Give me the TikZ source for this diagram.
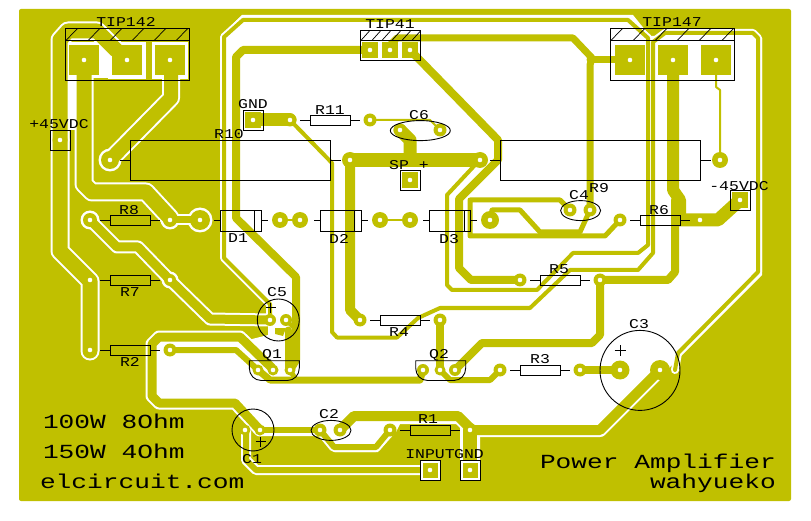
\documentclass[tikz,border=0pt]{standalone}
\usepackage{fontspec}
\newfontfamily\lblf[FakeStretch=1.22]{Liberation Mono}
\newfontfamily\bigf[FakeStretch=1.31]{Liberation Mono}
\definecolor{cu}{RGB}{192,192,0}
\newcommand\Tracks{%
  % tracks on the pour
  \trk{15}{(60,140)--(60,40)--(68,31)--(97,31)--(116,50)}
  \trk{15}{(60,140)--(60,251)--(90,281)--(90,351)}
  \trk{15}{(84,60)--(84,184)--(92,192)--(146,192)--(170,218)}
  \trk{14}{(171,60)--(171,98)--(110,160)}
  \rpad{110}{160}{9}
  \rpad{170}{220}{7}
  \rpad{200}{220}{10}
  \trk{7}{(170,220)--(200,220)}
  \rpad{90}{220}{7}
  \trk{9}{(90,220)--(117,247)--(138,247)--(170,280)--(210,319)--(270,320)}
  \rpad{170}{280}{6}
  % thin loop A
  \trk{4}{(475,165)--(447,195)--(447,285)--(452,290)--(537,290)--(573,253)--(638,253)--(648,245)--(648,38)--(628,20)--(243,20)--(224,37)--(224,258)--(270,304)--(270,320)}
  % thin loop B
  \trk{4}{(290,120)--(332,163)--(332,332)--(337,337.5)--(397,337.5)--(418,318)--(440,308)--(530,308)--(570,270)--(638,270)--(653,253)--(653,42)--(665,33)--(753,33)--(758,38)--(758,272)--(678,353)--(675,370)}
  % loop to Q1 and C1
  \trk{9}{(272,368)--(240,337)--(159,337)--(152,344)--(152,396)--(159,403)--(235,403)--(260,430)}
  \trk{6}{(170,350)--(236,350)--(258,370)}
  \trk{6}{(246,430)--(246,460)--(256,470)--(420,470)}
  \trk{6}{(260,430)--(320,430)}
  \trk{6}{(320,430)--(334,447)--(376,447)--(390,430)}
  \trk{10}{(340,430)--(354,416)--(458,416)--(470,428)--(470,459)}
  \trk{14}{(470,430)--(470,459)}
  \trk{10}{(470,430)--(600,430)--(660,370)}
  % heavy tracks on the clear area
  \trk{8}{(370,50)--(243,50)--(236,57)--(236,218)--(296,277)--(296,360)--(290,370)}
  \trk{7}{(288,330)--(288,370)}
  \trk{4}{(286,320)--(296,330)}
  \trk{7}{(258,370)--(270,380)--(420,380)--(423,370)}
  \trk{5}{(290,370)--(296,380)--(275,380)}
  \trk{7}{(390,45)--(397,38)--(573,38)--(592,58)--(590,65)--(590,210)}
  \trk{7}{(590,60)--(630,60)}
  \trk{8}{(410,50)--(498,140)--(498,160)--(459,199)--(459,268)--(471,280)--(520,280)}
  \trk{14}{(350,160)--(480,160)}
  \trk{13}{(400,130)--(410,140)--(410,160)}
  \trk{10}{(350,160)--(350,310)--(360,320)}
  \trk{13}{(255,120)--(290,120)}
  \trk{2}{(370,120)--(430,120)--(440,130)}
  \trk{2}{(716,75)--(716,87)--(720,90)--(720,155)}
  \trk{2}{(380,220)--(410,220)}
  \trk{2}{(280,220)--(300,220)}
  \trk{12}{(673,60)--(673,190)--(680,200)--(680,220)}
  \trk{8}{(675,200)--(675,272)--(668,280)--(600,280)}
  \trk{13}{(680,220)--(718,220)--(740,200)}
  \trk{8}{(440,320)--(440,370)}
  \trk{6}{(440,370)--(450,380)--(490,380)--(500,370)}
  \trk{8}{(455,370)--(482,343)--(592,343)--(600,335)--(600,280)}
  \trk{8}{(580,370)--(620,370)}
  \trk{5}{(620,220)--(605,236)--(470,236)--(470,200)--(560,200)--(570,210)}
  \trk{5}{(590,210)--(580,232)--(540,232)--(520,210)--(492,210)--(490,220)}
}
\begin{document}
\begin{tikzpicture}[x=1pt,y=-1pt,
  every node/.style={inner sep=0pt,outer sep=0pt,text=black},
  lab/.style={anchor=base,font=\lblf\fontsize{13.5}{14}\selectfont},
  biglab/.style={anchor=base west,font=\bigf\fontsize{20}{21}\selectfont},
  part/.style={draw=black,line width=.9pt}]
\useasboundingbox (0,0) rectangle (811,521);
\fill[white] (0,0) rectangle (811,521);
% copper pour
\fill[cu,rounded corners=2pt] (19,9) rectangle (791,501);
% etched main area
\fill[white] (242,15) -- (221,36) -- (221,259) -- (268,306) -- (268,335) -- (240,342)
  -- (157,342) -- (157,398) -- (235,398) -- (262,425) -- (262,436) -- (322,436)
  -- (335,452) -- (378,452) -- (396,432) -- (400,424) -- (460,424) -- (460,460)
  -- (480,460) -- (480,437) -- (601,436) -- (762,275) -- (762,38) -- (755,30)
  -- (665,30) -- (656,36) -- (650,36) -- (633,15) -- cycle;
% etched patches round the TIP142 pads
\fill[white] (67,78) rectangle (77,130);
\fill[white] (67,42) rectangle (108,78);
\fill[white] (108,42) rectangle (146,79);
\fill[white] (152,42) rectangle (188,79);
% isolation pass
\newcommand\trk[2]{\draw[white,line width={#1pt+4pt},line cap=round,line join=round] #2;}
\newcommand\rpad[3]{\fill[white] (#1,#2) circle ({#3pt+2.5pt});}
\Tracks
% copper pass
\renewcommand\trk[2]{\draw[cu,line width=#1pt,line cap=round,line join=round] #2;}
\renewcommand\rpad[3]{\fill[cu] (#1,#2) circle (#3pt);}
\Tracks
\fill[cu] (275,328) -- (286,328) -- (283,336) -- (275,334) -- cycle;
% white rings of the connector pads
\fill[white] (421,461) rectangle (441,481);
\fill[white] (461,461) rectangle (481,481);
\fill[cu] (423,463) rectangle (438,478);
\fill[cu] (463,463) rectangle (478,478);
% square pads
\foreach \x/\y in {84/60,127/60,170/60,630/60,673/60,716/60}
  \fill[cu] (\x-15,\y-15) rectangle (\x+15,\y+15);
\foreach \x/\y in {370/50,390/50,410/50,253/120,410/180,740/200}
  \fill[cu] (\x-8,\y-8) rectangle (\x+8,\y+8);
% round pads
\foreach \x/\y/\r in {290/120/6.5,370/120/6.5,400/130/6.5,440/130/6.5,350/160/8,480/160/8,
  720/160/8,280/220/8,300/220/8,380/220/8,410/220/8,490/220/9,570/210/6.5,590/210/6.5,
  620/220/6.5,520/280/6.5,600/280/6.5,360/320/6.5,440/320/6.5,170/350/6.5,270/320/6,286/320/6,
  258/370/5.5,273/370/5.5,290/370/5.5,423/370/6,440/370/5.5,455/370/6,500/370/6.5,580/370/6.5,
  620/370/9.5,660/370/10,245/430/5.5,260/430/5.5,320/430/6.5,340/430/6.5,390/430/6.5}
  \fill[cu] (\x,\y) circle (\r pt);
% drill holes
\foreach \x/\y in {84/60,127/60,170/60,370/50,390/50,410/50,630/60,673/60,716/60,
  253/120,290/120,370/120,400/130,440/130,60/140,110/160,350/160,480/160,720/160,410/180,740/200,
  90/220,170/220,200/220,280/220,300/220,380/220,410/220,490/220,570/210,590/210,620/220,700/220,
  90/280,170/280,520/280,600/280,270/320,286/320,360/320,440/320,90/350,170/350,
  258/370,273/370,290/370,423/370,440/370,455/370,500/370,580/370,620/370,660/370,
  245/430,260/430,320/430,340/430,390/430,470/430,430/470,470/470}
  \fill[white] (\x,\y) circle (2.3pt);
% connector frames
\draw[part] (65.7,28.3) rectangle (189.3,80.7) (65.7,40.7) -- (189.3,40.7);
\draw[part] (610.7,28.3) rectangle (734.7,80.7) (610.7,40.7) -- (734.7,40.7);
\draw[part] (360.7,30.7) rectangle (420.7,60.7) (360.7,40.7) -- (420.7,40.7);
\foreach \x in {65.7,88,110,132,154,176,610.7,633,655,677,699,721.7}
  \draw[part,line width=.7pt] (\x,40.7) -- (\x+12,28.3);
\foreach \x in {360.7,371.7,381.7,391.7,401.7,411.7}
  \draw[part,line width=.7pt] (\x,40.7) -- (\x+9,30.7);
% square pad frames
\foreach \x/\y in {60.4/140.4,253.7/120.4,410.7/180.7,740.4/200.4,430.4/470.4,470.4/470.4}
  \draw[part] (\x-10,\y-10) rectangle (\x+10,\y+10);
% resistors
\foreach \x/\y in {130.4/220.4,130.4/280.4,130.4/350.4,330.4/120.4,660.4/220.4,560.4/280.4,400.4/320.4,540.4/370.4,430.4/430.4}{
  \draw[part] (\x-20.3,\y-5) rectangle (\x+20.3,\y+5);
  \draw[part] (\x-30,\y) -- (\x-20.3,\y) (\x+20.3,\y) -- (\x+30,\y);
}
% power resistors
\draw[part] (130.7,140.4) rectangle (330.7,180.4) (120,160.4) -- (130.7,160.4) (330.7,160.4) -- (341,160.4);
\draw[part] (500.4,140.4) rectangle (700.7,180.4) (490,160.4) -- (500.4,160.4) (700.7,160.4) -- (711,160.4);
% diodes
\foreach \x/\b in {241.2/254.3,341.2/354.3,450/464.3}{
  \draw[part] (\x-20.5,210.7) rectangle (\x+20.5,231.7) (\b,210.7) -- (\b,231.7);
  \draw[part] (\x-27,220.4) -- (\x-20.5,220.4) (\x+20.5,220.4) -- (\x+27,220.4);
}
% capacitors
\draw[part] (278.3,320) circle (21pt) (253,430) circle (21pt) (640,370.4) circle (40pt);
\draw[part] (331,430.4) ellipse (20pt and 10pt) (420.3,130.6) ellipse (30pt and 10pt) (580.6,210.6) ellipse (20pt and 10pt);
\foreach \x/\y/\s in {620/350.7/5.5,270.6/307.7/5,260.7/441.7/5}
  \draw[part] (\x-\s,\y) -- (\x+\s,\y) (\x,\y-\s) -- (\x,\y+\s);
% transistors
\foreach \x in {249.3,415.7}
  \draw[part] (\x,360.7) -- (\x+50,360.7) -- (\x+50,368) .. controls (\x+50,375) and (\x+45,380.5) .. (\x+38,380.5) -- (\x+12,380.5) .. controls (\x+5,380.5) and (\x,375) .. (\x,368) -- cycle;
% labels
\node[lab] (ltipa) at (126,27) {TIP142};
\node[lab] (ltipb) at (390,29) {TIP41};
\node[lab] (ltipc) at (672,27) {TIP147};
\node[lab] (lgnda) at (253,109) {GND};
\node[lab] (lpos) at (59,129) {+45VDC};
\node[lab] (lrten) at (229,139) {R10};
\node[lab] (lrel) at (330,114.5) {R11};
\node[lab] (lcsix) at (419,119.5) {C6};
\node[lab] (lsp) at (409,169.5) {SP +};
\node[lab] (lneg) at (739,190.5) {-45VDC};
\node[lab] (lrnine) at (599,192.5) {R9};
\node[lab] (lcfour) at (579,199.5) {C4};
\node[lab] (lrsix) at (659,214.5) {R6};
\node[lab] (lreight) at (129,214.5) {R8};
\node[lab] (ldone) at (238,242.5) {D1};
\node[lab] (ldtwo) at (339,243.5) {D2};
\node[lab] (ldthree) at (449,243.5) {D3};
\node[lab] (lrfive) at (559,273.5) {R5};
\node[lab] (lrseven) at (130,296.5) {R7};
\node[lab] (lcfive) at (277,296.5) {C5};
\node[lab] (lcthree) at (639,328.5) {C3};
\node[lab] (lrfour) at (399,336.5) {R4};
\node[lab] (lqone) at (272,358.5) {Q1};
\node[lab] (lqtwo) at (439,358.5) {Q2};
\node[lab] (lrthree) at (540,363.5) {R3};
\node[lab] (lrtwo) at (130,366.5) {R2};
\node[lab] (lctwo) at (329,418.5) {C2};
\node[lab] (lrone) at (428,423.5) {R1};
\node[lab] (linput) at (430,458.5) {INPUT};
\node[lab] (lgndb) at (469,458.5) {GND};
\node[lab] (lcone) at (252,463.5) {C1};
\node[biglab] (tone) at (43,428) {100W 8Ohm};
\node[biglab] (ttwo) at (43,458) {150W 4Ohm};
\node[biglab] (tsite) at (40,488) {elcircuit.com};
\node[biglab] (ttitle) at (540,468) {Power Amplifier};
\node[biglab] (tauthor) at (650,488) {wahyueko};
\end{tikzpicture}
\end{document}
